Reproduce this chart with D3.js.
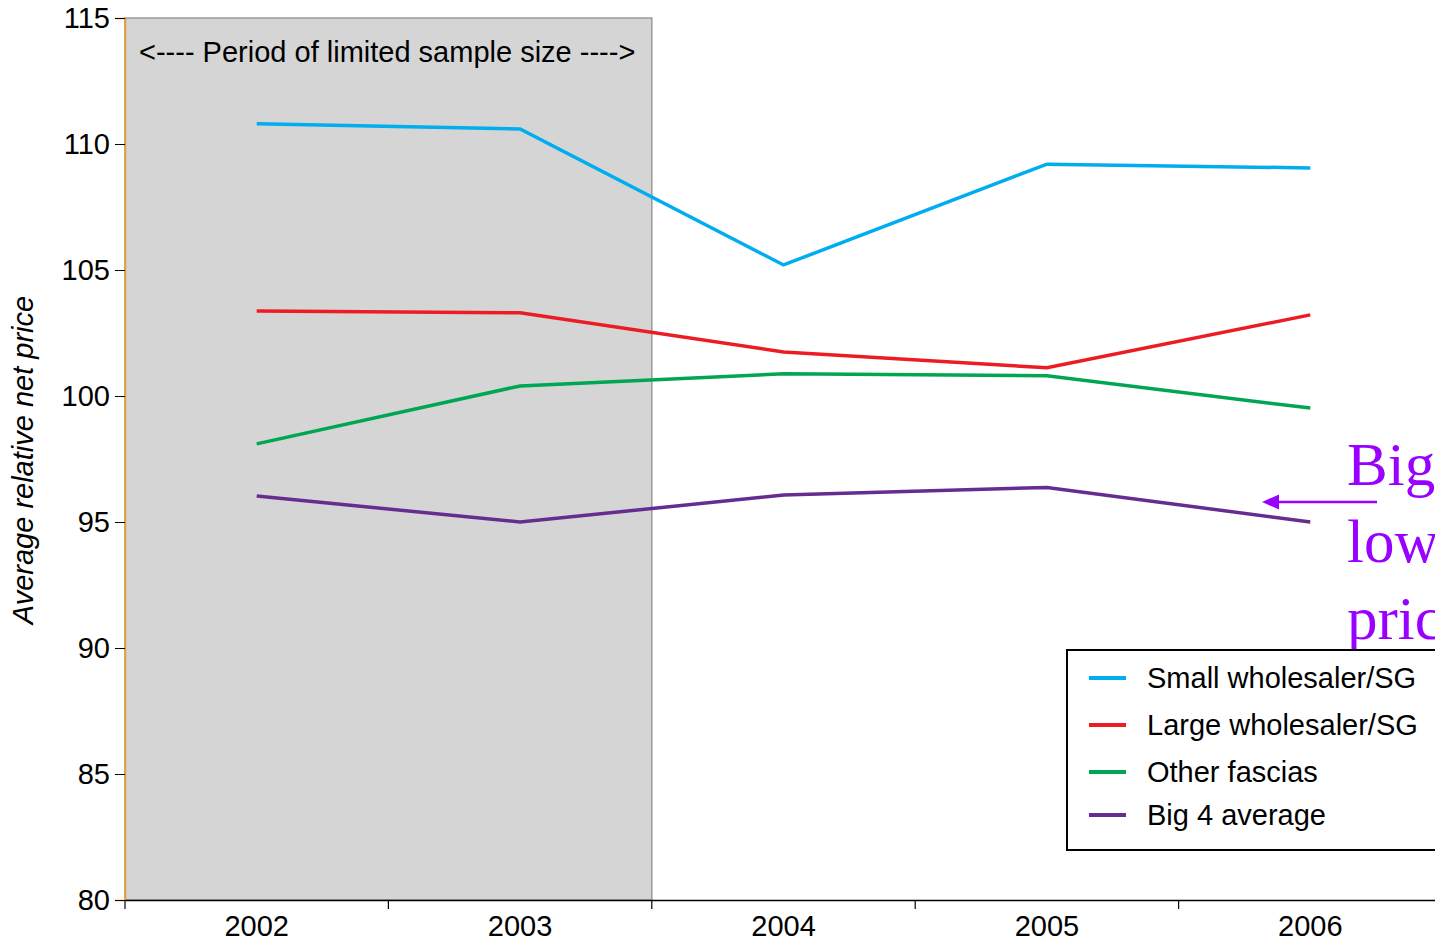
<!DOCTYPE html>
<html><head><meta charset="utf-8">
<script src="https://cdn.jsdelivr.net/npm/d3@7"></script>
<style>body{margin:0;background:#fff;overflow:hidden}svg{display:block}</style>
</head><body>
<svg id="chart" width="1435" height="941"></svg>
<script>
const years = ["2002","2003","2004","2005","2006"];
const yTicks = [80,85,90,95,100,105,110,115];
const smallWholesaler = [110.8,110.6,105.2,109.2,109.05];
const largeWholesaler = [103.37,103.3,101.75,101.12,103.22];
const otherFascias = [98.1,100.4,100.88,100.8,99.52];
const big4Average = [96.03,95.0,96.07,96.37,95.0];
const seriesNames = ["Small wholesaler/SG","Large wholesaler/SG","Other fascias","Big 4 average"];
const seriesColors = ["#00adef","#ed1c24","#00a651","#662d91"];
const seriesData = [smallWholesaler,largeWholesaler,otherFascias,big4Average];
const shadedYears = ["2002","2003"];
const shadedLabel = "<---- Period of limited sample size ---->";
const annotationLines = ["Big 4","lower","prices"];

(function(){
const svg = d3.select("#chart");
const mLeft = 125, mRight = 1442, mTop = 18, mBottom = 900;
const x = d3.scaleBand().domain(years).range([mLeft,mRight]);
const y = d3.scaleLinear().domain([80,115]).range([mBottom,mTop]);
const font = "Arial, 'Liberation Sans', sans-serif";
const fs = 29;

// shaded region
svg.append("rect")
  .attr("x", x(shadedYears[0]))
  .attr("y", y(115))
  .attr("width", x(shadedYears[1]) + x.bandwidth() - x(shadedYears[0]))
  .attr("height", y(80) - y(115))
  .attr("fill", "#d5d5d5").attr("stroke", "#999").attr("stroke-width", 1.5);

svg.append("text").attr("x", x(shadedYears[0]) + 14).attr("y", 62)
  .attr("font-family", font).attr("font-size", fs).attr("fill", "#000")
  .text(shadedLabel);

// axes
const yAxis = svg.append("g").attr("transform", `translate(${mLeft},0)`)
  .call(d3.axisLeft(y).tickValues(yTicks).tickSize(10).tickPadding(5));
yAxis.select(".domain").attr("stroke", "#f39c1f").attr("stroke-width", 1.5);
yAxis.selectAll("text").attr("font-family", font).attr("font-size", fs).attr("fill", "#000");

const xAxis = svg.append("g").attr("transform", `translate(0,${mBottom})`)
  .call(d3.axisBottom(x).tickSize(0).tickPadding(0));
xAxis.select(".domain").attr("stroke", "#000").attr("stroke-width", 1.5);
xAxis.selectAll("text").attr("font-family", font).attr("font-size", fs).attr("fill", "#000")
  .attr("y", 36).attr("dy", 0);
xAxis.selectAll(".bt").data(years.concat(["end"])).enter().append("line")
  .attr("x1", (d,i) => mLeft + i * x.step()).attr("x2", (d,i) => mLeft + i * x.step())
  .attr("y1", 0).attr("y2", 9).attr("stroke", "#000").attr("stroke-width", 1.2);

svg.append("text")
  .attr("transform", `translate(33,460) rotate(-90)`)
  .attr("text-anchor", "middle").attr("font-family", font).attr("font-size", fs)
  .attr("font-style", "italic").text("Average relative net price");

// lines
const line = d3.line().x((d,i) => x(years[i]) + x.bandwidth()/2).y(d => y(d));
seriesData.forEach((s,k) => {
  svg.append("path").datum(s).attr("d", line).attr("fill", "none")
    .attr("stroke", seriesColors[k]).attr("stroke-width", 3.5);
});

// annotation
const ann = svg.append("g").attr("font-family", "'Liberation Serif','Times New Roman',serif")
  .attr("font-size", 61).attr("fill", "#9900ff");
annotationLines.forEach((t,i) => {
  ann.append("text").attr("x", 1347).attr("y", 485 + i * 77).text(t);
});
svg.append("line").attr("x1",1377).attr("y1",502).attr("x2",1276).attr("y2",502)
  .attr("stroke","#9900ff").attr("stroke-width",2.5);
svg.append("path").attr("d","M1262,502 L1279,494.5 L1279,509.5 Z").attr("fill","#9900ff");

// legend
const lg = svg.append("g");
lg.append("rect").attr("x",1067).attr("y",650).attr("width",400).attr("height",200)
  .attr("fill","#fff").attr("stroke","#000").attr("stroke-width",2);
const ly = [678,725,772,815];
seriesNames.forEach((n,k) => {
  lg.append("line").attr("x1",1089).attr("x2",1126).attr("y1",ly[k]).attr("y2",ly[k])
    .attr("stroke",seriesColors[k]).attr("stroke-width",4);
  lg.append("text").attr("x",1147).attr("y",ly[k]).attr("dy","0.35em")
    .attr("font-family",font).attr("font-size",fs).attr("fill","#000").text(n);
});
})();
</script>
</body></html>
